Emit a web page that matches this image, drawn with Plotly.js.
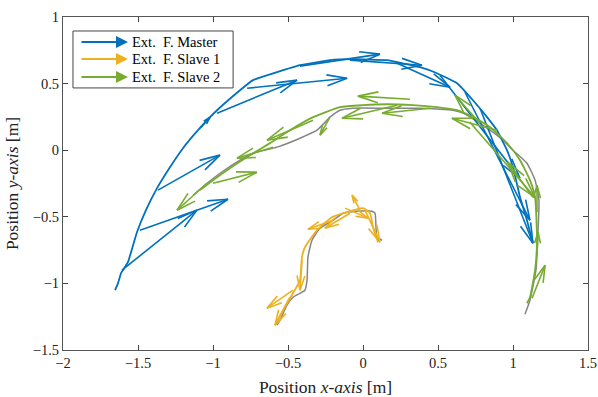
<!DOCTYPE html>
<html><head><meta charset="utf-8">
<script src="https://cdn.plot.ly/plotly-3.0.1.min.js"></script>
<style>html,body{margin:0;padding:0;background:#fff}#chart{width:598px;height:397px}</style>
</head><body><div id="chart"></div>
<script>
// ---------- DATA ----------
// Master trajectory (blue)
const masterPathX = [-1.653,-1.633,-1.613,-1.567,-1.507,-1.447,-1.373,-1.287,-1.2,-1.1,-0.987,-0.82,-0.733,-0.573,-0.42,-0.22,-0.067,0.16,0.38,0.493,0.627,0.733,0.827,0.893,0.96,1.0,1.047,1.093,1.133];
const masterPathY = [-1.051,-0.998,-0.923,-0.841,-0.616,-0.45,-0.285,-0.128,0.015,0.15,0.285,0.45,0.526,0.586,0.638,0.676,0.683,0.676,0.623,0.578,0.503,0.375,0.248,0.15,0.0,-0.128,-0.353,-0.526,-0.698];
// Master external force arrows (base + components)
const masterArrowX = [-1.607,-1.487,-1.367,-1.087,-0.973,-0.773,-0.42,-0.087,0.213,0.513,0.68,0.78];
const masterArrowY = [-0.901,-0.601,-0.300,0.165,0.278,0.465,0.631,0.676,0.661,0.563,0.435,0.315];
const masterArrowU = [0.50,0.587,0.413,0.067,0.533,0.667,0.533,0.48,0.367,0.533,0.433,0.353];
const masterArrowV = [0.451,0.233,0.263,0.083,0.248,0.075,0.09,-0.038,-0.188,-0.773,-0.961,-1.013];

// Slave 1 reference path (grey) and trajectory (yellow)
const slave1RefX = [-0.573,-0.553,-0.507,-0.467,-0.387,-0.373,-0.367,-0.34,-0.287,-0.2,-0.133,-0.04,0.06,0.08,0.093,0.127];
const slave1RefY = [-1.314,-1.276,-1.164,-1.104,-1.051,-0.976,-0.803,-0.676,-0.586,-0.526,-0.473,-0.458,-0.458,-0.473,-0.653,-0.676];
const slave1PathX = [-0.587,-0.533,-0.467,-0.42,-0.407,-0.387,-0.307,-0.207,-0.107,0.0,0.047,0.067,0.1];
const slave1PathY = [-1.314,-1.201,-1.074,-0.976,-0.803,-0.728,-0.601,-0.503,-0.465,-0.435,-0.473,-0.578,-0.691];
const slave1ArrowX = [-0.02,-0.467,-0.2,-0.087,0.013,-0.407,-0.487,-0.12];
const slave1ArrowY = [-0.45,-1.051,-0.526,-0.473,-0.45,-0.826,-1.104,-0.435];
const slave1ArrowU = [-0.053,-0.173,-0.167,-0.167,0.1,-0.013,-0.1,0.153];
const slave1ArrowV = [0.113,-0.135,-0.068,-0.113,-0.24,-0.225,-0.21,-0.075];

// Slave 2 reference path (grey) and trajectory (green)
const slave2RefX = [-1.133,-1.04,-0.953,-0.82,-0.733,-0.573,-0.42,-0.307,-0.22,-0.153,-0.067,0.16,0.38,0.513,0.6,0.667,0.747,0.847,0.933,1.0,1.093,1.147,1.173,1.167,1.153,1.113,1.08];
const slave2RefY = [-0.338,-0.248,-0.173,-0.075,-0.023,0.023,0.09,0.15,0.248,0.3,0.315,0.315,0.315,0.308,0.3,0.278,0.225,0.15,0.075,0.0,-0.098,-0.225,-0.375,-0.601,-0.901,-1.126,-1.231];
const slave2PathX = [-1.087,-1.0,-0.887,-0.753,-0.62,-0.487,-0.333,-0.153,0.0,0.16,0.333,0.493,0.627,0.733,0.847,0.96,1.047,1.113,1.147,1.16,1.147,1.113,1.093];
const slave2PathY = [-0.3,-0.225,-0.135,-0.038,0.053,0.15,0.248,0.323,0.338,0.345,0.338,0.323,0.3,0.248,0.173,0.053,-0.075,-0.225,-0.353,-0.676,-0.901,-1.104,-1.149];
const slave2ArrowX = [-1.04,-1.0,-0.6,-0.333,-0.22,0.227,0.313,0.447,0.78,0.893,1.133,1.16,1.16,1.127,0.713];
const slave2ArrowY = [-0.248,-0.248,0.023,0.225,0.248,0.338,0.383,0.315,0.203,0.15,-0.353,-0.465,-0.788,-1.111,0.21];
const slave2ArrowU = [-0.2,0.293,-0.24,-0.307,-0.067,-0.367,-0.347,-0.32,-0.167,-0.3,-0.167,0.0,0.007,0.087,0.433];
const slave2ArrowV = [-0.203,0.083,-0.083,-0.15,-0.135,-0.098,0.023,-0.038,0.21,0.09,0.263,0.203,0.173,0.248,-0.563];

const legendLabels = ['Ext.\u00a0\u00a0F.\u00a0Master','Ext.\u00a0\u00a0F.\u00a0Slave\u00a01','Ext.\u00a0\u00a0F.\u00a0Slave\u00a02'];
const xTicks = [-2,-1.5,-1,-0.5,0,0.5,1,1.5];
const yTicks = [-1.5,-1,-0.5,0,0.5,1];

// ---------- STYLE / LAYOUT ----------
const BLUE='#0072BD', YELLOW='#EDB120', GREEN='#77AC30', GREY='#858585';
const W=598,H=397,M={l:63,r:10,t:17,b:47};
const xRange=[-2,1.5], yRange=[-1.5,1];
const sx=(W-M.l-M.r)/(xRange[1]-xRange[0]);
const sy=(H-M.t-M.b)/(yRange[1]-yRange[0]);
const FONT='"Liberation Serif","DejaVu Serif",serif';
const fmt=v=>String(v).replace('-','\u2212');

function quiver(X,Y,U,V,color){
  const xs=[],ys=[];
  const a=15*Math.PI/180;
  for(let i=0;i<X.length;i++){
    const x0=X[i],y0=Y[i],x1=x0+U[i],y1=y0+V[i];
    xs.push(x0,x1,null); ys.push(y0,y1,null);
    const dx=U[i]*sx, dy=V[i]*sy, len=Math.hypot(dx,dy);
    if(len<1e-6) continue;
    const hl=Math.min(21,0.5*len), ang=Math.atan2(dy,dx);
    const b1x=x1-hl*Math.cos(ang+a)/sx, b1y=y1-hl*Math.sin(ang+a)/sy;
    const b2x=x1-hl*Math.cos(ang-a)/sx, b2y=y1-hl*Math.sin(ang-a)/sy;
    xs.push(b1x,x1,b2x,null); ys.push(b1y,y1,b2y,null);
  }
  return {type:'scatter',mode:'lines',x:xs,y:ys,line:{color:color,width:1.6},hoverinfo:'skip',showlegend:false};
}
function path(X,Y,color,w,sm){
  return {type:'scatter',mode:'lines',x:X,y:Y,line:{color:color,width:w,shape:'spline',smoothing:sm},hoverinfo:'skip',showlegend:false};
}

const traces=[
  path(slave1RefX,slave1RefY,GREY,1.5,0.5),
  path(slave2RefX,slave2RefY,GREY,1.5,0.5),
  path(masterPathX,masterPathY,BLUE,1.8,0.3),
  quiver(masterArrowX,masterArrowY,masterArrowU,masterArrowV,BLUE),
  path(slave1PathX,slave1PathY,YELLOW,1.8,0.5),
  quiver(slave1ArrowX,slave1ArrowY,slave1ArrowU,slave1ArrowV,YELLOW),
  path(slave2PathX,slave2PathY,GREEN,1.8,0.5),
  quiver(slave2ArrowX,slave2ArrowY,slave2ArrowU,slave2ArrowV,GREEN)
];

// legend (drawn manually, arrow symbols)
const legColors=[BLUE,YELLOW,GREEN];
const legY=[0.925,0.874,0.820];
const annotations=[];
legendLabels.forEach((t,i)=>{
  annotations.push({xref:'paper',yref:'paper',x:0.1238,y:legY[i],ax:-48,ay:0,axref:'pixel',ayref:'pixel',
    text:'',showarrow:true,arrowhead:2,arrowsize:1.2,arrowwidth:2,arrowcolor:legColors[i]});
  annotations.push({xref:'paper',yref:'paper',x:0.128,y:legY[i],xanchor:'left',yanchor:'middle',
    text:t,showarrow:false,font:{family:FONT,size:14.5,color:'#000'}});
});

const axisCommon={showgrid:false,zeroline:false,showline:true,linecolor:'#555',linewidth:1,mirror:'allticks',
  ticks:'inside',ticklen:5,tickcolor:'#444',tickfont:{family:FONT,size:14.5,color:'#222'}};

const layout={
  width:W,height:H,margin:M,paper_bgcolor:'#fff',plot_bgcolor:'#fff',showlegend:false,
  xaxis:Object.assign({},axisCommon,{range:xRange,tickvals:xTicks,ticktext:xTicks.map(fmt),
    title:{text:'Position <i>x-axis</i> [m]',font:{family:FONT,size:17.5,color:'#222'}}}),
  yaxis:Object.assign({},axisCommon,{range:yRange,tickvals:yTicks,ticktext:yTicks.map(fmt),
    title:{text:'Position <i>y-axis</i> [m]',font:{family:FONT,size:17.5,color:'#222'}}}),
  shapes:[{type:'rect',xref:'paper',yref:'paper',x0:0.019,x1:0.324,y0:0.787,y1:0.958,
    line:{color:'#444',width:1},fillcolor:'#fff',layer:'above'}],
  annotations:annotations
};
Plotly.newPlot('chart',traces,layout,{staticPlot:true,displayModeBar:false});
</script></body></html>
